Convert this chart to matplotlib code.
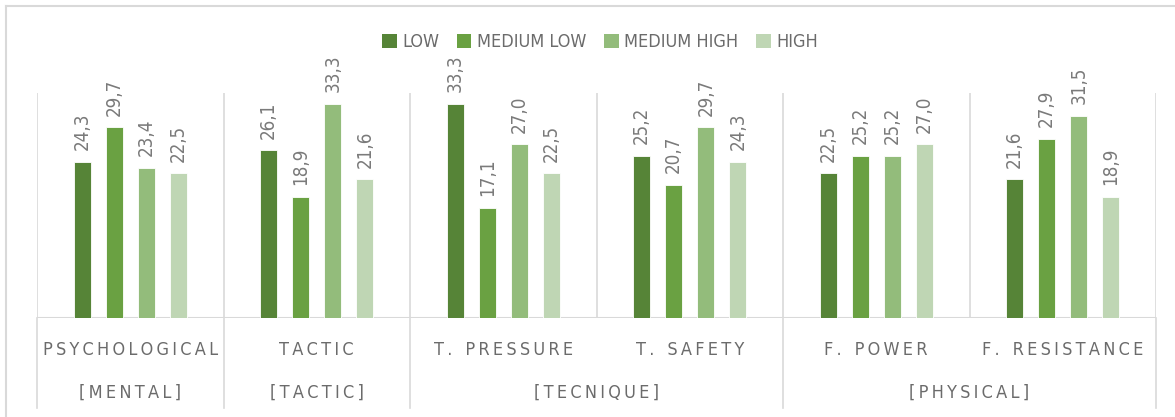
import numpy as np
import matplotlib
matplotlib.use("Agg")
import matplotlib.pyplot as plt
from matplotlib.lines import Line2D
from matplotlib.patches import Patch

# data
categories = ["PSYCHOLOGICAL", "TACTIC", "T. PRESSURE", "T. SAFETY", "F. POWER", "F. RESISTANCE"]
groups = ["[MENTAL]", "[TACTIC]", "[TECNIQUE]", "[PHYSICAL]"]
group_spans = [(0, 0), (1, 1), (2, 3), (4, 5)]
series = ["LOW", "MEDIUM LOW", "MEDIUM HIGH", "HIGH"]
low = [24.3, 26.1, 33.3, 25.2, 22.5, 21.6]
medium_low = [29.7, 18.9, 17.1, 20.7, 25.2, 27.9]
medium_high = [23.4, 33.3, 27.0, 29.7, 25.2, 31.5]
high = [22.5, 21.6, 22.5, 24.3, 27.0, 18.9]

values = [low, medium_low, medium_high, high]
colors = ["#568437", "#6aa142", "#93bc7b", "#bfd6b4"]
grid_col = "#d9d9d9"
text_col = "#6b6b6b"

plt.rcParams['font.family'] = ['DejaVu Sans']
plt.rcParams['font.stretch'] = 'condensed'


def spaced(s):
    # wide letter spacing like the original axis labels
    return "\u2009".join(s).replace("\u2009 \u2009", "\u2009\u2009\u2009\u2009")


W, H = 1175, 417
fig = plt.figure(figsize=(W / 100, H / 100), dpi=100)
ax = fig.add_axes([37 / W, (H - 318) / H, (1156 - 37) / W, (318 - 93) / H])

x = np.arange(len(categories))
step = 0.1716
width = 0.092
for i, (vals, col) in enumerate(zip(values, colors)):
    pos = x + (i - 1.5) * step
    bars = ax.bar(pos, vals, width, color=col, edgecolor="white", linewidth=0.6, zorder=3)
    for b, v in zip(bars, vals):
        ax.text(b.get_x() + b.get_width() / 2, v + 1.8, f"{v:.1f}".replace(".", ","),
                rotation=90, ha="center", va="bottom", fontsize=13.5, color="#7a7a7a")

ax.set_xlim(-0.5, len(categories) - 0.5)
ax.set_ylim(0, 35)
ax.set_xticks([])
ax.set_yticks([])
for s in ax.spines.values():
    s.set_visible(False)

# vertical gridlines between categories
for b in np.arange(-0.5, len(categories), 1.0):
    ax.plot([b, b], [0, 1], transform=ax.get_xaxis_transform(), color=grid_col, lw=1.2, zorder=1)
ax.axhline(0, color=grid_col, lw=1.5, zorder=2)

# group dividers below the axis
trans = ax.get_xaxis_transform()
bounds = [-0.5] + [g[1] + 0.5 for g in group_spans]
for b in bounds:
    ax.plot([b, b], [0, -0.4], transform=trans, color=grid_col, lw=1.2, clip_on=False)

for i, c in enumerate(categories):
    ax.text(i, -0.142, spaced(c), transform=trans, ha="center", va="center",
            fontsize=13, color=text_col)
for g, (a, b) in zip(groups, group_spans):
    ax.text((a + b) / 2, -0.333, spaced(g), transform=trans, ha="center", va="center",
            fontsize=13, color=text_col)

handles = [Patch(facecolor=c, edgecolor="none") for c in colors]
fig.legend(handles, series, loc="center", bbox_to_anchor=(600 / W, 1 - 42 / H), ncol=4,
           frameon=False, fontsize=13, handlelength=0.8, handleheight=0.8,
           handletextpad=0.3, columnspacing=1.0, labelcolor=text_col)

# chart border (left and top visible in the crop)
fig.add_artist(Line2D([6 / W, 6 / W], [0, 1 - 6 / H], color=grid_col, lw=1.5))
fig.add_artist(Line2D([6 / W, 1], [1 - 6 / H, 1 - 6 / H], color=grid_col, lw=1.5))

fig.savefig("out.png", dpi=100)
